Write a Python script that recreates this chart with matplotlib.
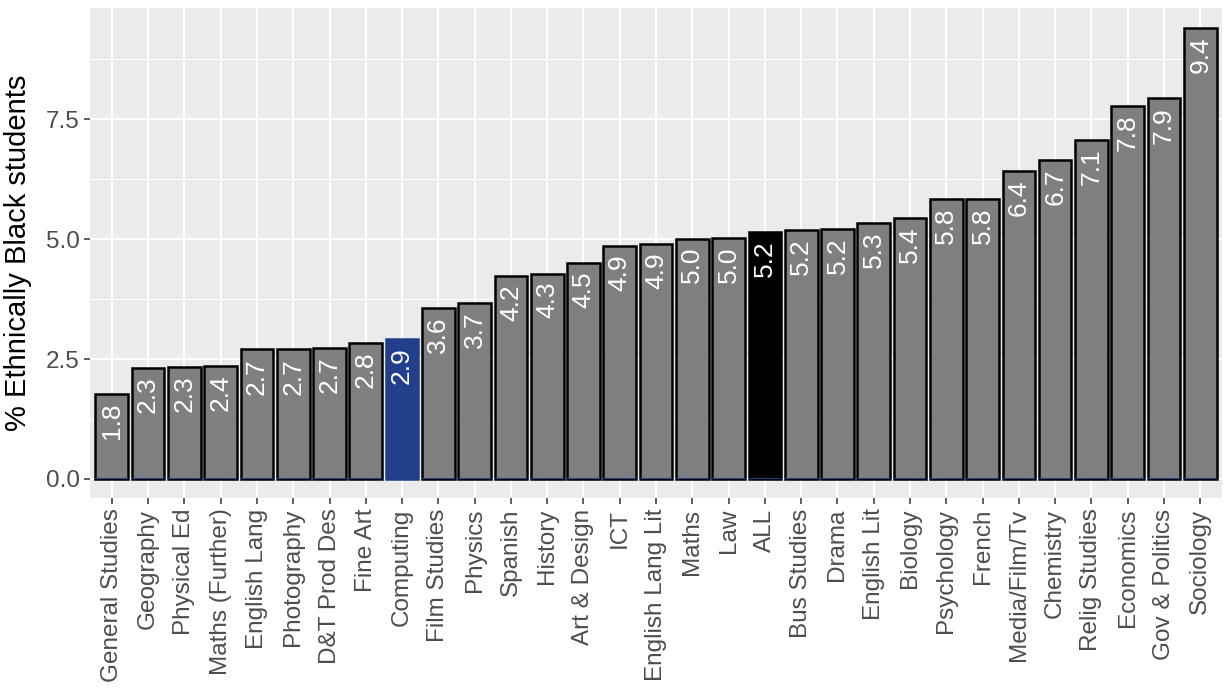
import matplotlib.pyplot as plt
import numpy as np

plt.rcParams['font.family'] = ['Liberation Sans', 'DejaVu Sans']

subjects = ['General Studies', 'Geography', 'Physical Ed', 'Maths (Further)', 'English Lang',
            'Photography', 'D&T Prod Des', 'Fine Art', 'Computing', 'Film Studies', 'Physics',
            'Spanish', 'History', 'Art & Design', 'ICT', 'English Lang Lit', 'Maths', 'Law',
            'ALL', 'Bus Studies', 'Drama', 'English Lit', 'Biology', 'Psychology', 'French',
            'Media/Film/Tv', 'Chemistry', 'Relig Studies', 'Economics', 'Gov & Politics',
            'Sociology']
pct_black = [1.77, 2.31, 2.33, 2.36, 2.70, 2.70, 2.74, 2.83, 2.92, 3.57, 3.66,
             4.24, 4.28, 4.50, 4.86, 4.89, 5.01, 5.02, 5.15, 5.19, 5.20, 5.33,
             5.44, 5.83, 5.84, 6.42, 6.65, 7.07, 7.78, 7.93, 9.40]

grey = '#7f7f7f'
blue = '#233e8b'
fill = [blue if s == 'Computing' else ('black' if s == 'ALL' else grey) for s in subjects]
edge = [blue if s == 'Computing' else 'black' for s in subjects]

fig = plt.figure(figsize=(12.25, 6.9), dpi=100)
ax = fig.add_axes([0.0735, 0.278, 0.9241, 0.710])
ax.set_facecolor('#ebebeb')

x = np.arange(len(subjects))
ax.bar(x, pct_black, width=0.9, color=fill, edgecolor=edge, linewidth=1.8, zorder=3)
# thin blue baseline under each bar
ax.bar(x, [0.02] * len(x), width=0.9, color=blue, linewidth=0, zorder=4)

for xi, v in zip(x, pct_black):
    ax.annotate(f'{v:.1f}', (xi, v), xytext=(0, -6), textcoords='offset points',
                rotation=90, ha='center', va='top', color='white', fontsize=19, zorder=5)

ax.set_xlim(-0.6, len(subjects) - 0.4)
ax.set_ylim(-0.4, 9.81)
ax.set_yticks([0, 2.5, 5.0, 7.5])
ax.set_yticklabels(['0.0', '2.5', '5.0', '7.5'])
ax.set_yticks([1.25, 3.75, 6.25, 8.75], minor=True)
ax.set_xticks(x)
ax.set_xticklabels(subjects, rotation=90, ha='center', va='top')

ax.grid(True, which='major', color='white', linewidth=1.4, zorder=0)
ax.grid(True, which='minor', axis='y', color='white', linewidth=0.7, zorder=0)
ax.set_axisbelow(True)
for s in ax.spines.values():
    s.set_visible(False)

ax.tick_params(axis='both', which='major', colors='#333333', labelcolor='#4d4d4d',
               labelsize=17.5, length=4, width=1.1)
ax.tick_params(axis='y', which='minor', length=0)
ax.set_ylabel('% Ethnically Black students', fontsize=21, color='black', labelpad=10)

fig.savefig('out.png', dpi=100)
